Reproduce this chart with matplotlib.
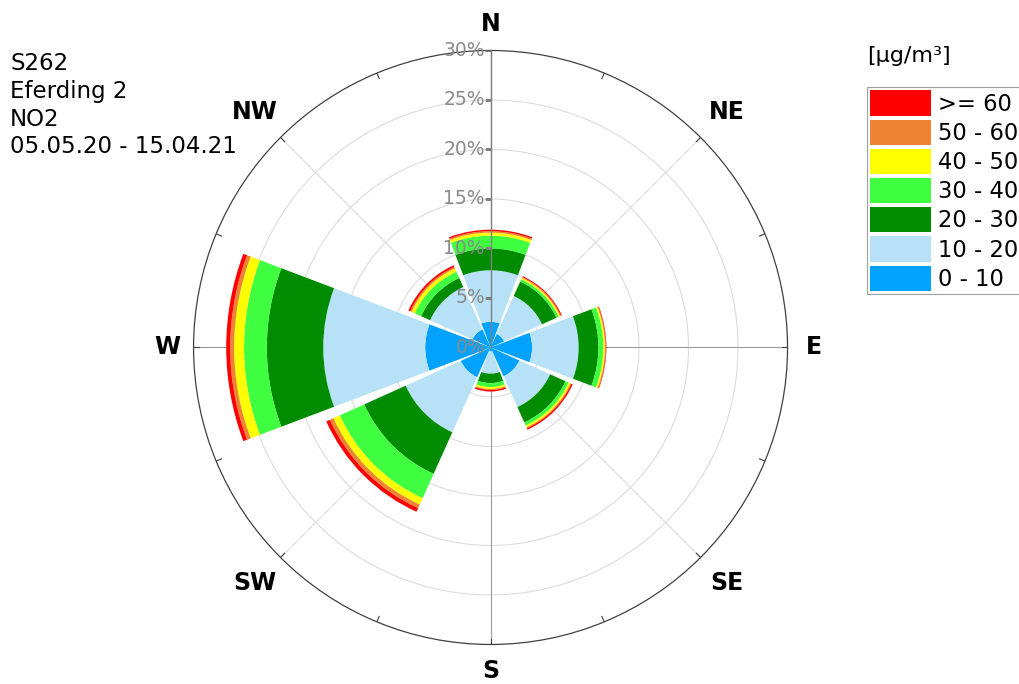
import numpy as np
import matplotlib.pyplot as plt
from matplotlib.patches import Patch
from matplotlib.path import Path

# wind sectors, clockwise from north
directions = ["N", "NE", "E", "SE", "S", "SW", "W", "NW"]
angles_deg = [0, 45, 90, 135, 180, 225, 270, 315]

# share of hours per sector and NO2 class [%]
freq_0_10 = [2.6, 1.5, 4.2, 3.2, 0.4, 3.3, 6.6, 2.0]
freq_10_20 = [5.2, 4.2, 4.7, 3.4, 2.25, 6.1, 10.3, 4.7]
freq_20_30 = [2.2, 1.6, 2.0, 1.7, 0.95, 4.6, 5.7, 1.0]
freq_30_40 = [1.3, 0.25, 0.5, 0.35, 0.4, 2.7, 2.3, 0.7]
freq_40_50 = [0.3, 0.15, 0.15, 0.2, 0.2, 0.7, 1.0, 0.35]
freq_50_60 = [0.15, 0.1, 0.1, 0.1, 0.1, 0.4, 0.4, 0.15]
freq_60_up = [0.15, 0.1, 0.05, 0.15, 0.15, 0.4, 0.4, 0.2]

class_labels = ["0 - 10", "10 - 20", "20 - 30", "30 - 40", "40 - 50", "50 - 60", ">= 60"]
class_colors = ["#00a2ff", "#b7e1f7", "#008c00", "#40ff40", "#ffff00", "#ee8433", "#ff0000"]

ring_ticks = [0, 5, 10, 15, 20, 25, 30]
info_lines = ["S262", "Eferding 2", "NO2", "05.05.20 - 15.04.21"]
unit_label = "[µg/m³]"

class_values = [freq_0_10, freq_10_20, freq_20_30, freq_30_40,
                freq_40_50, freq_50_60, freq_60_up]

fig = plt.figure(figsize=(10.19, 6.84), dpi=100)
ax = fig.add_axes([0.1899, 0.0578, 0.583, 0.8684], projection="polar")
ax.set_theta_zero_location("N")
ax.set_theta_direction(-1)
ax.set_ylim(0, ring_ticks[-1])
ax.set_xticks([])
ax.set_yticks([])
ax.grid(False)
ax.spines["polar"].set_color("#404040")
ax.spines["polar"].set_linewidth(0.9)

# grid rings and spokes
full = np.linspace(0, 2 * np.pi, 361)
for r in ring_ticks[1:-1]:
    ax.plot(full, np.full_like(full, r), color="#dcdcdc", lw=0.8, zorder=0)
for a in range(0, 360, 45):
    col = "#9a9a9a" if a % 90 == 0 else "#dcdcdc"
    ax.plot([np.deg2rad(a)] * 2, [0, ring_ticks[-1]], color=col, lw=0.8, zorder=0)
for a in np.arange(0, 360, 22.5):
    ax.plot([np.deg2rad(a)] * 2, [29.4, 30], color="#404040", lw=0.8, zorder=1)

# stacked sectors
theta = np.deg2rad(angles_deg)
width = np.deg2rad(41.5)
bottom = np.zeros(len(theta))
for vals, color in zip(class_values, class_colors):
    vals = np.asarray(vals)
    ax.bar(theta, vals, width=width, bottom=bottom, color=color,
           linewidth=0, zorder=2)
    bottom += vals

# radial axis along north with percent labels
ax.plot([0, 0], [0, ring_ticks[-1]], color="#808080", lw=1, zorder=3)
tick_mark = Path([(-1, 0), (0, 0)])
ax.plot(np.zeros(len(ring_ticks) - 1), ring_ticks[1:], ls="none",
        marker=tick_mark, markersize=9, mec="#808080", mew=1, zorder=3)
for r in ring_ticks:
    ax.annotate(f"{r}%", xy=(0, r), xytext=(-4, 0), textcoords="offset points",
                ha="right", va="center", color="#8a8a8a", fontsize=13.5,
                zorder=4)

# compass labels
for name, ang in zip(directions, angles_deg):
    lab_r = 32.7 if ang % 90 == 0 else 33.7
    ax.text(np.deg2rad(ang), lab_r, name, ha="center", va="center",
            fontsize=17, fontweight="bold")

# station info
for i, line in enumerate(info_lines):
    fig.text(10 / 1019, 1 - (70 + i * 27.8) / 684, line, fontsize=16.5,
             va="baseline")

fig.text(867 / 1019, 1 - 62 / 684, unit_label, fontsize=16, va="baseline")

handles = [Patch(facecolor=c, edgecolor="none") for c in class_colors][::-1]
leg = fig.legend(handles, class_labels[::-1], loc="upper left",
                 bbox_to_anchor=(866.5 / 1019, 1 - 87 / 684), borderaxespad=0,
                 fontsize=16.3, handlelength=2.69, handleheight=1.33,
                 labelspacing=0.18, handletextpad=0.3, borderpad=0.15,
                 fancybox=False, framealpha=1)
leg.get_frame().set_edgecolor("#a0a0a0")
leg.get_frame().set_linewidth(0.8)

fig.savefig("out.png", dpi=100)
